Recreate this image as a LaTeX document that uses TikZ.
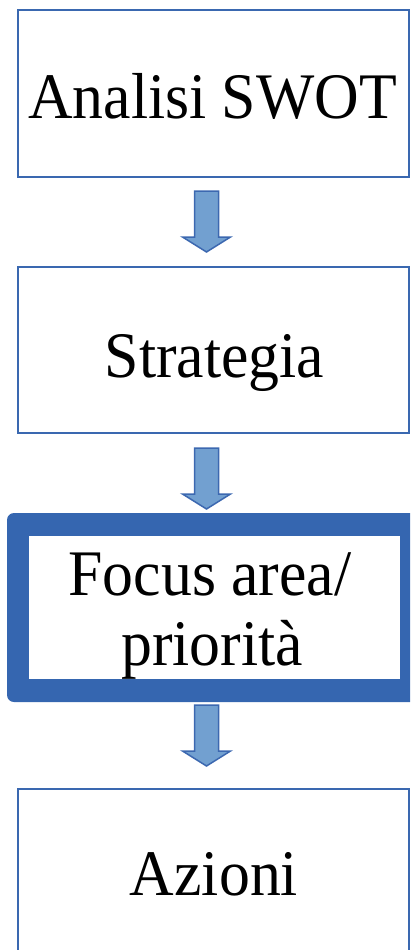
\documentclass[tikz,border=0pt]{standalone}
\usepackage{fontspec}
\setmainfont{Liberation Serif}[FakeStretch=0.95]
\usetikzlibrary{calc}
\definecolor{boxline}{RGB}{58,104,176}
\definecolor{thickline}{RGB}{53,102,176}
\definecolor{arrowfill}{RGB}{114,160,208}
\definecolor{arrowline}{RGB}{60,104,176}
\tikzset{
  box/.style={draw=boxline, line width=2pt, fill=white, inner sep=0pt},
  txt/.style={font=\fontsize{65}{70}\selectfont, inner sep=0pt, anchor=base, text=black},
  barrow/.style={draw=arrowline, fill=arrowfill, line width=1.5pt, line join=miter}
}
\newcommand\blockarrow[2]{%
  \draw[barrow] ($(#1)+(-12,0)$) -- ($(#1)+(12,0)$) -- ($(#2)+(12,-15)$) -- ($(#2)+(24,-15)$)
    -- (#2) -- ($(#2)+(-24,-15)$) -- ($(#2)+(-12,-15)$) -- cycle;}
\begin{document}
\begin{tikzpicture}[x=1pt,y=-1pt]
\useasboundingbox (0,0) rectangle (410,950);
\clip (0,0) rectangle (410,950);
% boxes
\node[box, minimum width=391pt, minimum height=167pt] (b1) at (213.5,93.5) {};
\node[box, minimum width=391pt, minimum height=166pt] (b2) at (213.5,350) {};
\node[fill=thickline, rounded corners=7pt, inner sep=0pt, minimum width=415pt, minimum height=189pt] (b3) at (214.5,607.5) {};
\node[fill=white, inner sep=0pt, minimum width=371pt, minimum height=143pt] (b3in) at (214.5,607.5) {};
\node[box, minimum width=391pt, minimum height=200pt] (b4) at (213.5,889) {};
% texts
\node[txt] (t1) at (212.5,118) {Analisi SWOT};
\node[txt] (t2) at (214.5,377) {Strategia};
\node[txt] (t3a) at (210,595) {Focus area/};
\node[txt] (t3b) at (212,665) {priorità};
\node[txt] (t4) at (214,895) {Azioni};
% arrows
\coordinate (a1s) at (206.5,191);
\coordinate (a1t) at (206.5,252);
\coordinate (a2s) at (206.5,448);
\coordinate (a2t) at (206.5,509);
\coordinate (a3s) at (206.5,705);
\coordinate (a3t) at (206.5,766);
\blockarrow{a1s}{a1t}
\blockarrow{a2s}{a2t}
\blockarrow{a3s}{a3t}
\end{tikzpicture}
\end{document}
